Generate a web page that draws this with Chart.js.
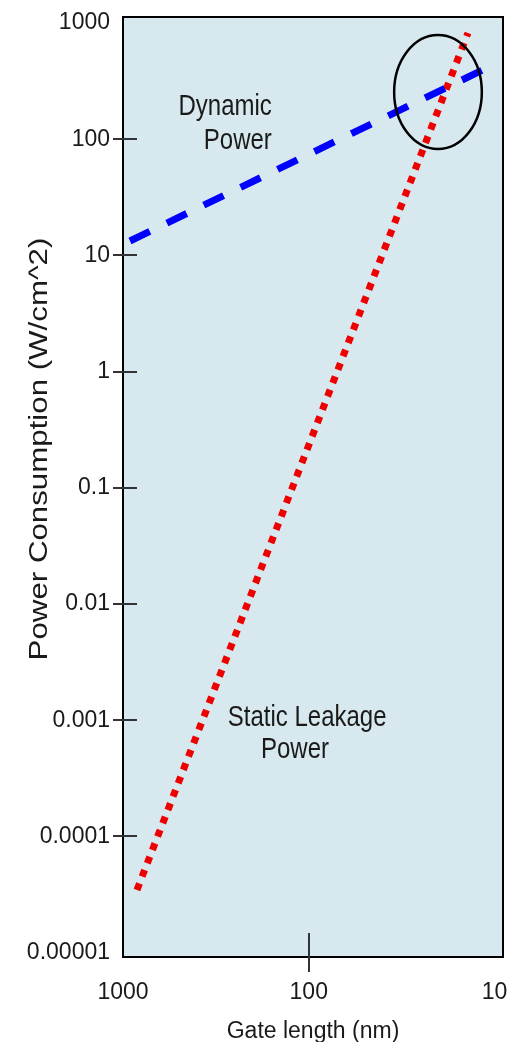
<!DOCTYPE html>
<html lang="en">
<head>
    <meta charset="UTF-8">
    <title>Power Consumption vs Gate Length</title>
    <style>
      body { margin: 0; background: #ffffff; }
      #wrap { width: 526px; height: 1042px; }
    </style>
</head>
<body>
    <div id="wrap"><canvas id="powerChart"></canvas></div>

    <script src="https://cdn.jsdelivr.net/npm/chart.js"></script>
    <script>
        // data
        const dynamicGate = [917, 11];
        const dynamicPower = [13.3, 410];
        const leakageGate = [841, 13.9];
        const leakagePower = [3.46e-5, 820];

        const xTicks = [1000, 100, 10];
        const xTickLabels = ['1000', '100', '10'];
        const yTicks = [1e-5, 1e-4, 1e-3, 1e-2, 1e-1, 1, 10, 100, 1000];
        const yTickLabels = ['0.00001', '0.0001', '0.001', '0.01', '0.1', '1', '10', '100', '1000'];

        // crossover ellipse bounds (gate nm, power)
        const ellipseGate = [34.7, 11.7];
        const ellipsePower = [82.4, 788];

        const FONT = 'Liberation Sans, Arial, Helvetica, sans-serif';
        const TEXT = '#1a1a1a';

        function stretchedText(ctx, text, x, y, size, align) {
            ctx.save();
            ctx.translate(x, y);
            ctx.scale(1, 1.22);
            ctx.font = size + 'px ' + FONT;
            ctx.fillStyle = TEXT;
            ctx.textAlign = align;
            ctx.textBaseline = 'middle';
            ctx.fillText(text, 0, 0);
            ctx.restore();
        }

        const decorations = {
            id: 'decorations',
            beforeDatasetsDraw(chart) {
                const { ctx, chartArea: a } = chart;
                ctx.save();
                ctx.fillStyle = '#d7e9ee';
                ctx.fillRect(a.left, a.top, a.right - a.left, a.bottom - a.top);
                ctx.restore();
            },
            afterDatasetsDraw(chart) {
                const { ctx, chartArea: a, scales: { x, y } } = chart;

                // ellipse round the crossover
                const l = x.getPixelForValue(ellipseGate[0]);
                const r = x.getPixelForValue(ellipseGate[1]);
                const b = y.getPixelForValue(ellipsePower[0]);
                const t = y.getPixelForValue(ellipsePower[1]);
                ctx.save();
                ctx.strokeStyle = '#000';
                ctx.lineWidth = 2.5;
                ctx.beginPath();
                ctx.ellipse((l + r) / 2, (t + b) / 2, (r - l) / 2, (b - t) / 2, 0, 0, Math.PI * 2);
                ctx.stroke();

                // frame
                ctx.lineWidth = 2;
                ctx.strokeRect(a.left, a.top, a.right - a.left, a.bottom - a.top);

                // tick marks crossing the axes
                ctx.strokeStyle = '#333';
                ctx.lineWidth = 2;
                ctx.beginPath();
                yTicks.slice(1, -1).forEach(v => {
                    const py = Math.round(y.getPixelForValue(v));
                    ctx.moveTo(a.left - 10, py);
                    ctx.lineTo(a.left + 14, py);
                });
                const px = Math.round(x.getPixelForValue(100));
                ctx.moveTo(px, a.bottom - 24);
                ctx.lineTo(px, a.bottom + 15);
                ctx.stroke();
                ctx.restore();

                // curve labels
                stretchedText(ctx, 'Dynamic', x.getPixelForValue(158), y.getPixelForValue(189), 24, 'right');
                stretchedText(ctx, 'Power', x.getPixelForValue(158), y.getPixelForValue(96.5), 24, 'right');
                stretchedText(ctx, 'Static Leakage', x.getPixelForValue(102), y.getPixelForValue(0.00105), 24, 'center');
                stretchedText(ctx, 'Power', x.getPixelForValue(118.6), y.getPixelForValue(0.00055), 24, 'center');

                // y axis title
                ctx.save();
                ctx.translate(40, (a.top + a.bottom) / 2 - 38);
                ctx.rotate(-Math.PI / 2);
                ctx.scale(1.25, 1);
                ctx.font = '25px ' + FONT;
                ctx.fillStyle = TEXT;
                ctx.textAlign = 'center';
                ctx.textBaseline = 'middle';
                ctx.fillText('Power Consumption (W/cm^2)', 0, 0);
                ctx.restore();
            }
        };

        const ctx = document.getElementById('powerChart').getContext('2d');

        const powerChart = new Chart(ctx, {
            type: 'line',
            data: {
                datasets: [{
                    label: 'Dynamic Power',
                    data: dynamicGate.map((g, i) => ({ x: g, y: dynamicPower[i] })),
                    borderColor: '#0000ff',
                    borderWidth: 7,
                    borderDash: [22, 19],
                    borderCapStyle: 'butt',
                    pointRadius: 0,
                    fill: false
                }, {
                    label: 'Static Leakage Power',
                    data: leakageGate.map((g, i) => ({ x: g, y: leakagePower[i] })),
                    borderColor: '#ee0000',
                    borderWidth: 7,
                    borderDash: [7, 7.3],
                    borderCapStyle: 'butt',
                    pointRadius: 0,
                    fill: false
                }]
            },
            options: {
                responsive: true,
                maintainAspectRatio: false,
                animation: false,
                layout: { padding: { top: 17, right: 23, left: 0, bottom: 0 } },
                plugins: {
                    legend: { display: false },
                    tooltip: { enabled: false }
                },
                scales: {
                    x: {
                        type: 'logarithmic',
                        reverse: true,
                        min: 9,
                        max: 1000,
                        afterBuildTicks: s => { s.ticks = xTicks.map(v => ({ value: v })); },
                        afterFit: s => { s.height = 85; s.paddingLeft = 0; s.paddingRight = 0; },
                        grid: { display: false },
                        border: { display: false },
                        ticks: {
                            autoSkip: false,
                            maxRotation: 0,
                            padding: 14,
                            color: TEXT,
                            font: { family: FONT, size: 23 },
                            callback: (v, i) => xTickLabels[i]
                        },
                        title: {
                            display: true,
                            text: 'Gate length (nm)',
                            color: TEXT,
                            font: { family: FONT, size: 23 },
                            padding: { top: 0, bottom: -3 }
                        }
                    },
                    y: {
                        type: 'logarithmic',
                        min: 9.16e-6,
                        max: 1126,
                        afterBuildTicks: s => { s.ticks = yTicks.map(v => ({ value: v })); },
                        afterFit: s => { s.width = 123; s.paddingTop = 0; s.paddingBottom = 0; },
                        grid: { display: false },
                        border: { display: false },
                        ticks: {
                            autoSkip: false,
                            padding: 5,
                            color: TEXT,
                            font: { family: FONT, size: 23 },
                            callback: (v, i) => yTickLabels[i]
                        }
                    }
                }
            },
            plugins: [decorations]
        });
    </script>
</body>
</html>
